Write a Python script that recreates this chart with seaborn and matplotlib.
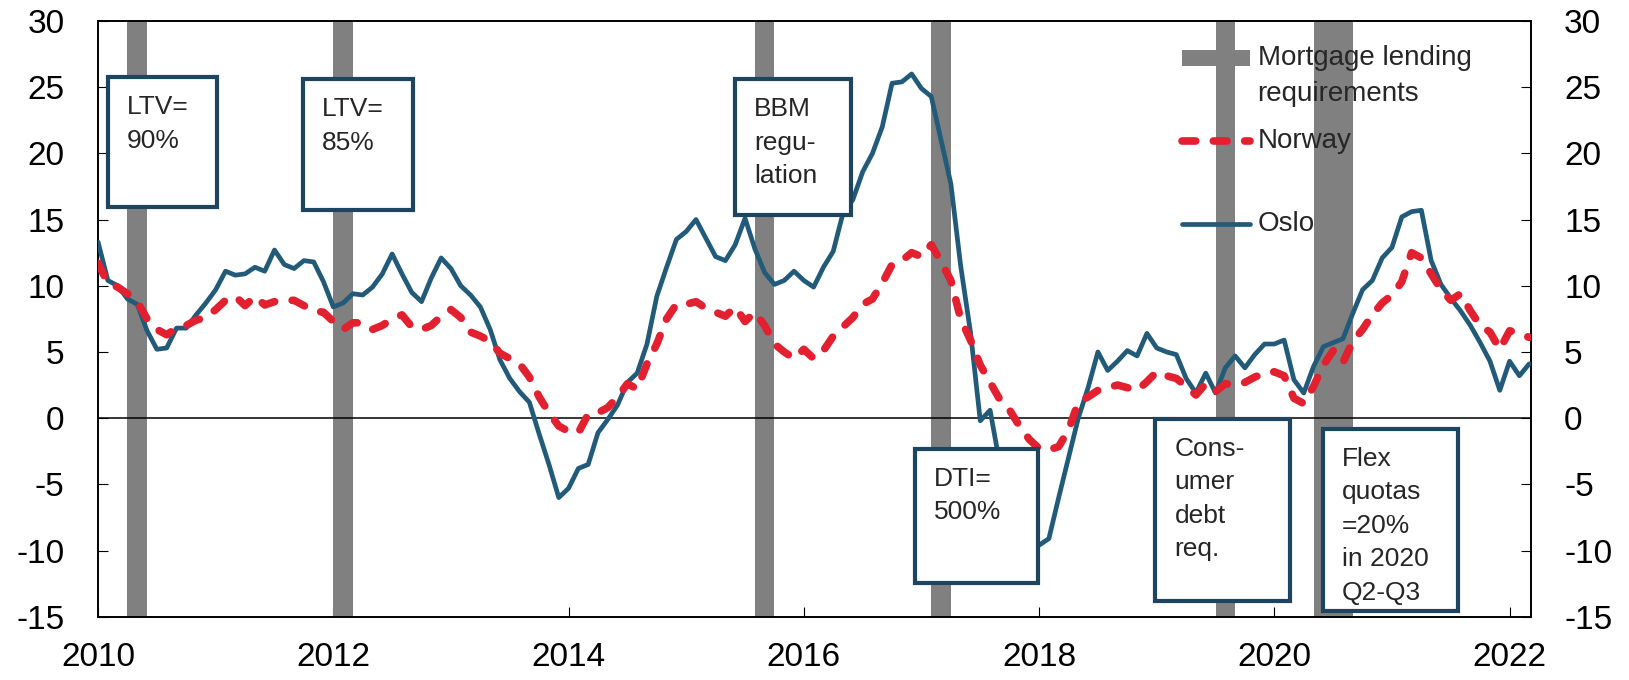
import numpy as np
import pandas as pd
import seaborn as sns
import matplotlib.pyplot as plt
from matplotlib.lines import Line2D
from matplotlib.patches import Rectangle
from matplotlib.transforms import offset_copy

# House prices, 12-month growth in percent, monthly Jan 2010 - Mar 2022
months = pd.date_range("2010-01-01", "2022-03-01", freq="MS")

oslo = [13.3, 10.4, 10.0, 9.0, 8.6, 6.6, 5.2, 5.3, 6.8, 6.8, 7.8, 8.7,
        9.7, 11.1, 10.8, 10.9, 11.4, 11.1, 12.7, 11.6, 11.3, 11.9, 11.8, 10.3,
        8.4, 8.7, 9.4, 9.3, 9.9, 10.9, 12.4, 10.9, 9.5, 8.8, 10.6, 12.1,
        11.3, 10.0, 9.3, 8.4, 6.7, 4.4, 3.0, 2.0, 1.2, -1.2, -3.5, -6.0,
        -5.3, -3.8, -3.5, -1.1, -0.1, 1.0, 2.7, 3.4, 5.6, 9.2, 11.4, 13.5,
        14.1, 15.0, 13.6, 12.2, 11.9, 13.1, 15.1, 12.8, 11.0, 10.1, 10.4, 11.1,
        10.4, 9.9, 11.4, 12.6, 15.5, 16.5, 18.6, 20.0, 22.0, 25.3, 25.4, 26.0,
        24.9, 24.3, 21.0, 17.7, 11.5, 6.5, -0.2, 0.6, -3.5, -5.5, -7.5, -9.3,
        -9.6, -9.1, -6.0, -3.0, 0.0, 2.3, 5.0, 3.6, 4.3, 5.1, 4.7, 6.4,
        5.3, 5.0, 4.8, 3.0, 1.9, 3.4, 1.9, 3.8, 4.7, 3.8, 4.8, 5.6,
        5.6, 5.9, 2.9, 1.9, 3.9, 5.4, 5.7, 6.0, 7.9, 9.7, 10.4, 12.1,
        12.9, 15.2, 15.6, 15.7, 11.9, 10.1, 9.05, 8.1, 7.0, 5.7, 4.3, 2.1,
        4.3, 3.2, 4.1]

norway = [11.7, 10.2, 9.9, 9.4, 8.8, 7.5, 6.7, 6.3, 6.8, 7.0, 7.4, 7.6,
          8.2, 8.9, 9.2, 8.5, 9.2, 8.55, 8.8, 8.9, 8.9, 8.5, 8.1, 8.0,
          7.3, 6.7, 7.2, 7.2, 6.7, 7.0, 7.5, 7.8, 6.9, 6.7, 7.0, 7.7,
          8.2, 7.6, 6.5, 6.2, 5.8, 4.9, 4.5, 4.1, 3.1, 1.6, 0.4, -0.6,
          -1.0, -1.1, 0.3, 0.4, 0.8, 1.6, 2.6, 2.2, 4.1, 5.6, 7.5, 8.6,
          8.6, 8.8, 8.3, 8.0, 7.7, 8.4, 7.3, 8.0, 7.0, 5.6, 5.0, 4.5,
          5.2, 4.5, 5.1, 6.2, 6.9, 7.6, 8.6, 9.0, 10.2, 11.6, 11.9, 12.5,
          12.2, 13.1, 11.8, 10.4, 7.5, 5.9, 4.0, 2.7, 1.4, 0.6, -0.6, -1.6,
          -2.3, -2.4, -2.15, -0.9, 1.2, 1.6, 2.1, 2.3, 2.5, 2.3, 2.1, 2.75,
          3.5, 3.2, 3.0, 2.4, 1.75, 2.6, 2.0, 2.6, 2.5, 2.7, 3.1, 3.4,
          3.5, 3.2, 1.5, 1.1, 2.4, 4.0, 5.1, 4.2, 5.8, 6.7, 7.8, 8.7,
          9.3, 10.3, 12.5, 12.1, 10.9, 9.7, 8.9, 9.4, 8.1, 7.0, 6.5, 5.2,
          6.6, 6.4, 6.1]

# mortgage lending requirement periods (decimal years)
req_start = [2010.25, 2012.0, 2015.583, 2017.083, 2019.5, 2020.333]
req_end = [2010.417, 2012.167, 2015.75, 2017.25, 2019.667, 2020.667]

# text boxes
box_labels = ["LTV=\n90%", "LTV=\n85%", "BBM\nregu-\nlation", "DTI=\n500%",
              "Cons-\numer\ndebt\nreq.", "Flex\nquotas\n=20%\nin 2020\nQ2-Q3"]
box_left = [2010.085, 2011.74, 2015.414, 2016.943, 2018.989, 2020.412]
box_right = [2011.011, 2012.676, 2016.40, 2017.989, 2020.133, 2021.56]
box_top = [25.75, 25.6, 25.6, -2.3, -0.06, -0.79]
box_bottom = [15.95, 15.75, 15.35, -12.45, -13.81, -14.6]

x_ticks = [2010, 2012, 2014, 2016, 2018, 2020, 2022]
y_ticks = list(range(-15, 31, 5))

BLUE = "#225a7a"
NAVY = "#1d4560"
RED = "#e2202f"
GRAY = "#808080"

sns.set_style("ticks")
plt.rcParams["font.family"] = ["Liberation Sans", "DejaVu Sans"]
plt.rcParams["axes.unicode_minus"] = False

df = pd.DataFrame({"year": months.year + (months.month - 1) / 12,
                   "Norway": norway, "Oslo": oslo})

fig = plt.figure(figsize=(16.29, 6.8), dpi=100)
ax = fig.add_axes([0.0602, 0.0931, 0.8795, 0.876])

for s, e in zip(req_start, req_end):
    ax.axvspan(s, e, color=GRAY, lw=0, zorder=1)
ax.axhline(0, color="black", lw=1.1, zorder=2)

sns.lineplot(data=df, x="year", y="Oslo", ax=ax, color=BLUE, lw=3.4, zorder=3)
sns.lineplot(data=df, x="year", y="Norway", ax=ax, color=RED, lw=5.5,
             linestyle=(0, (1.8, 2.3)), dash_capstyle="round", zorder=4)

for label, x0, x1, y0, y1 in zip(box_labels, box_left, box_right, box_top, box_bottom):
    ax.add_patch(Rectangle((x0, y1), x1 - x0, y0 - y1, facecolor="white",
                           edgecolor=NAVY, lw=3, zorder=5))
    ax.text(x0, y0, label, va="top", ha="left", fontsize=19, linespacing=1.5,
            zorder=6, transform=offset_copy(ax.transData, fig=fig, x=13.7, y=-13, units="points"))

ax.set_xlim(2010, 2022.18)
ax.set_ylim(-15, 30)
ax.set_xticks(x_ticks)
ax.set_yticks(y_ticks)
ax.set_xlabel("")
ax.set_ylabel("")
ax.tick_params(axis="both", direction="in", length=7, width=0.8, labelsize=24, colors="black")
ax.tick_params(axis="y", left=True, right=True, labelleft=True, labelright=True, pad=24)
ax.tick_params(axis="x", pad=18)
for sp in ax.spines.values():
    sp.set_visible(True)
    sp.set_linewidth(1.4)
    sp.set_color("black")

handles = [Line2D([], [], color=GRAY, lw=11.5, solid_capstyle="butt"),
           Line2D([], [], color=RED, lw=5.5, linestyle=(0, (1.8, 2.3)), dash_capstyle="round"),
           Line2D([], [], color=BLUE, lw=3.4, solid_capstyle="round")]
labels = ["Mortgage lending\nrequirements", "Norway\n", "Oslo\n"]
leg = ax.legend(handles, labels, loc="upper left", bbox_to_anchor=(1181.7 / 1629, 1 - 45 / 680),
                bbox_transform=fig.transFigure, frameon=False, fontsize=20,
                handlelength=2.45, handletextpad=0.28, labelspacing=0.75,
                borderpad=0, borderaxespad=0)
for t in leg.get_texts():
    t.set_linespacing(1.5)
for h in leg.legend_handles:
    h.set_ydata(np.asarray(h.get_ydata()) + 13)

fig.savefig("out.png", dpi=100)
